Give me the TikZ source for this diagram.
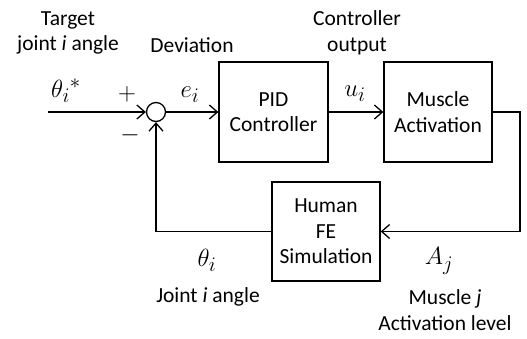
\documentclass[tikz,border=0pt]{standalone}
\usepackage{fontspec}
\setmainfont{Carlito}
\usetikzlibrary{arrows.meta,positioning}
\tikzset{
  block/.style={draw,minimum width=108pt,minimum height=100pt,align=center,inner sep=0pt},
  sumnode/.style={draw,circle,minimum size=19pt,inner sep=0pt},
  sig/.style={-{Straight Barb[length=8pt,width=14pt]}},
  lbl/.style={align=center,inner sep=0pt},
  mathlbl/.style={inner sep=0pt,font=\fontsize{29}{34}\selectfont}
}

\begin{document}
\begin{tikzpicture}[x=1pt,y=-1pt,line width=1.3pt,font=\fontsize{21.5}{25.5}\selectfont]
  \useasboundingbox (0,0) rectangle (527,338);
  % blocks
  \node[sumnode] (sum) at (156,112) {};
  \node[block,minimum width=109pt] (pid) at (273.5,112) {PID\\Controller};
  \node[block] (act) at (438,112) {Muscle\\Activation};
  \node[block,minimum height=99pt] (fe) at (326,231.5) {Human\\FE\\Simulation};
  \coordinate (in) at (48,112);
  \coordinate (out) at (520,112);
  % signals
  \draw[sig] (in) -- (sum);
  \draw[sig] (sum) -- (pid);
  \draw[sig] (pid) -- (act);
  \draw[sig] (act.east) -- (out) |- (fe.east);
  \draw[sig] (fe.west) -| (sum.south);
  % labels
  \node[lbl] (target) at (68,33) {Target\\joint \textit{i} angle};
  \node[lbl] (dev) at (192,45) {Deviation};
  \node[lbl] (ctrlout) at (357,33) {Controller\\output};
  \node[mathlbl] (thstar) at (66,91) {${\theta_i}^{*}$};
  \node[mathlbl] (plus) at (127,94) {$+$};
  \node[mathlbl] (minus) at (130,135) {$-$};
  \node[mathlbl] (ei) at (190,95) {$e_i$};
  \node[mathlbl] (ui) at (355,94) {$u_i$};
  \node[mathlbl] (thi) at (207,260) {$\theta_i$};
  \node[mathlbl] (aj) at (439,261) {$A_j$};
  \node[lbl] (jang) at (208,297) {Joint \textit{i} angle};
  \node[lbl] (mlev) at (445,310) {Muscle \textit{j}\\Activation level};
\end{tikzpicture}
\end{document}
